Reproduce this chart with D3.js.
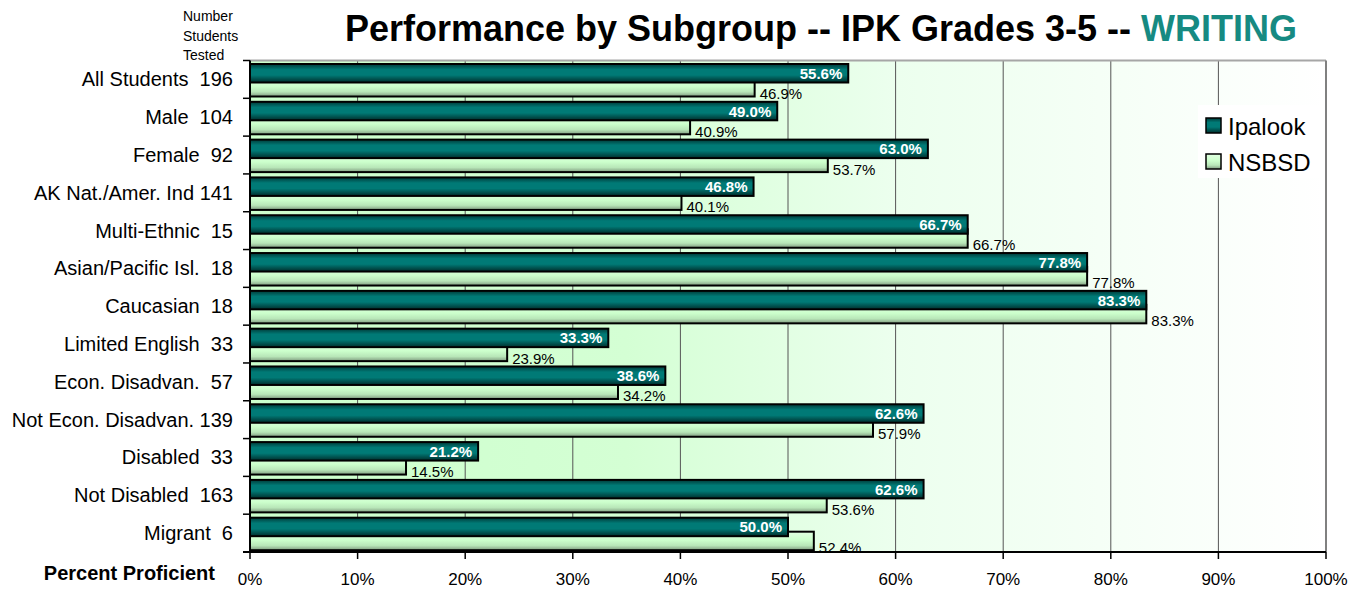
<!DOCTYPE html>
<html><head><meta charset="utf-8">
<script src="https://cdn.jsdelivr.net/npm/d3@7"></script>
<style>body{margin:0;background:#fff}svg{display:block}text{font-family:"Liberation Sans",Arial,sans-serif}</style>
</head><body><svg id="c" width="1362" height="592"></svg>
<script>
const groupLabels = ["All Students  196","Male  104","Female  92","AK Nat./Amer. Ind 141","Multi-Ethnic  15","Asian/Pacific Isl.  18","Caucasian  18","Limited English  33","Econ. Disadvan.  57","Not Econ. Disadvan. 139","Disabled  33","Not Disabled  163","Migrant  6"];
const ipalook = [55.6,49.0,63.0,46.8,66.7,77.8,83.3,33.3,38.6,62.6,21.2,62.6,50.0];
const nsbsd = [46.9,40.9,53.7,40.1,66.7,77.8,83.3,23.9,34.2,57.9,14.5,53.6,52.4];
const xTicks = [0,10,20,30,40,50,60,70,80,90,100];
const seriesNames = ["Ipalook","NSBSD"];

const svg = d3.select("#c");
const L=250,R=1326,T=60.5,B=552;
const x = d3.scaleLinear().domain([0,100]).range([L,R]);
const y = d3.scaleBand().domain(d3.range(groupLabels.length)).range([T,B]).padding(0);
const bw = y.bandwidth();

const defs = svg.append("defs");
const bg = defs.append("linearGradient").attr("id","bg").attr("x1",0).attr("x2",1).attr("y1",0).attr("y2",0);
[[0,"#ccffcc"],[0.35,"#d4ffd4"],[0.6,"#ecffee"],[1,"#ffffff"]].forEach(s=>bg.append("stop").attr("offset",s[0]).attr("stop-color",s[1]));
const gt = defs.append("linearGradient").attr("id","gt").attr("x1",0).attr("x2",0).attr("y1",0).attr("y2",1);
[[0,"#003a38"],[0.3,"#007a76"],[0.6,"#007a76"],[1,"#002e2c"]].forEach(s=>gt.append("stop").attr("offset",s[0]).attr("stop-color",s[1]));
const gl = defs.append("linearGradient").attr("id","gl").attr("x1",0).attr("x2",0).attr("y1",0).attr("y2",1);
[[0,"#e2ffe2"],[0.45,"#ccffcc"],[0.75,"#b8e6b8"],[1,"#7f9a7f"]].forEach(s=>gl.append("stop").attr("offset",s[0]).attr("stop-color",s[1]));

svg.append("rect").attr("x",L).attr("y",T).attr("width",R-L).attr("height",B-T).attr("fill","url(#bg)");

svg.append("g").selectAll("line").data(xTicks.slice(1,-1)).join("line")
  .attr("x1",d=>x(d)).attr("x2",d=>x(d)).attr("y1",T).attr("y2",B)
  .attr("stroke","#555").attr("stroke-width",1);
svg.append("line").attr("x1",L).attr("x2",R).attr("y1",T).attr("y2",T).attr("stroke","#a6a6a6").attr("stroke-width",2);
svg.append("line").attr("x1",R).attr("x2",R).attr("y1",T).attr("y2",B).attr("stroke","#808080").attr("stroke-width",2);

const lg = svg.append("g");
lg.append("rect").attr("x",1198).attr("y",105).attr("width",124).attr("height",73).attr("fill","#fff");
seriesNames.forEach((n,i)=>{
  lg.append("rect").attr("x",1206).attr("y",118+i*36).attr("width",15).attr("height",15)
    .attr("fill",i==0?"url(#gt)":"url(#gl)").attr("stroke","#000").attr("stroke-width",1.5);
  lg.append("text").attr("x",1228).attr("y",126+i*36).attr("dominant-baseline","central")
    .attr("font-size",24).attr("fill","#000").text(n);
});

const gBars = svg.append("g");
gBars.selectAll("rect.n").data(nsbsd).join("rect").attr("class","n")
  .attr("x",x(0)).attr("y",(d,i)=>y(i)+17.5).attr("width",d=>x(d)-x(0)).attr("height",18.5)
  .attr("fill","url(#gl)").attr("stroke","#000").attr("stroke-width",2);
gBars.selectAll("rect.i").data(ipalook).join("rect").attr("class","i")
  .attr("x",x(0)).attr("y",(d,i)=>y(i)+3.5).attr("width",d=>x(d)-x(0)).attr("height",18.5)
  .attr("fill","url(#gt)").attr("stroke","#000").attr("stroke-width",2);

svg.append("g").selectAll("text").data(ipalook).join("text")
  .attr("x",d=>x(d)-6).attr("y",(d,i)=>y(i)+12.75).attr("dominant-baseline","central")
  .attr("text-anchor","end").attr("font-size",15).attr("font-weight","bold").attr("fill","#fff")
  .text(d=>d.toFixed(1)+"%");
svg.append("g").selectAll("text").data(nsbsd).join("text")
  .attr("x",d=>x(d)+5).attr("y",(d,i)=>y(i)+33).attr("dominant-baseline","central")
  .attr("font-size",15).attr("fill","#000")
  .text(d=>d.toFixed(1)+"%");

svg.append("line").attr("x1",L).attr("x2",L).attr("y1",T).attr("y2",B).attr("stroke","#000").attr("stroke-width",2);
svg.append("line").attr("x1",L-7).attr("x2",R).attr("y1",B).attr("y2",B).attr("stroke","#000").attr("stroke-width",2);
svg.append("g").selectAll("line").data(d3.range(groupLabels.length+1)).join("line")
  .attr("x1",L-7).attr("x2",L).attr("y1",i=>T+i*bw).attr("y2",i=>T+i*bw).attr("stroke","#000").attr("stroke-width",1.5);
svg.append("g").selectAll("line").data(xTicks).join("line")
  .attr("x1",d=>x(d)).attr("x2",d=>x(d)).attr("y1",B).attr("y2",B+7).attr("stroke","#000").attr("stroke-width",1.5);
svg.append("g").selectAll("text").data(xTicks).join("text")
  .attr("x",d=>x(d)).attr("y",579).attr("dominant-baseline","central").attr("text-anchor","middle")
  .attr("font-size",17).attr("fill","#000").text(d=>d+"%");

svg.append("g").selectAll("text").data(groupLabels).join("text")
  .attr("x",233).attr("y",(d,i)=>y(i)+bw/2).attr("dominant-baseline","central").attr("text-anchor","end")
  .attr("font-size",20).attr("fill","#000").style("white-space","pre")
  .text(d=>d);

["Number","Students","Tested"].forEach((t,i)=>svg.append("text").attr("x",183).attr("y",16+i*19.5)
  .attr("dominant-baseline","central").attr("font-size",14).attr("fill","#000").text(t));
svg.append("text").attr("x",215).attr("y",573).attr("dominant-baseline","central").attr("text-anchor","end")
  .attr("font-size",20).attr("font-weight","bold").attr("fill","#000").text("Percent Proficient");

const title = svg.append("text").attr("x",821).attr("y",41).attr("text-anchor","middle")
  .attr("font-size",36).attr("font-weight","bold").attr("fill","#000").style("white-space","pre");
title.append("tspan").text("Performance by Subgroup -- IPK Grades 3-5 -- ");
title.append("tspan").attr("fill","#168a82").text("WRITING");
</script></body></html>
